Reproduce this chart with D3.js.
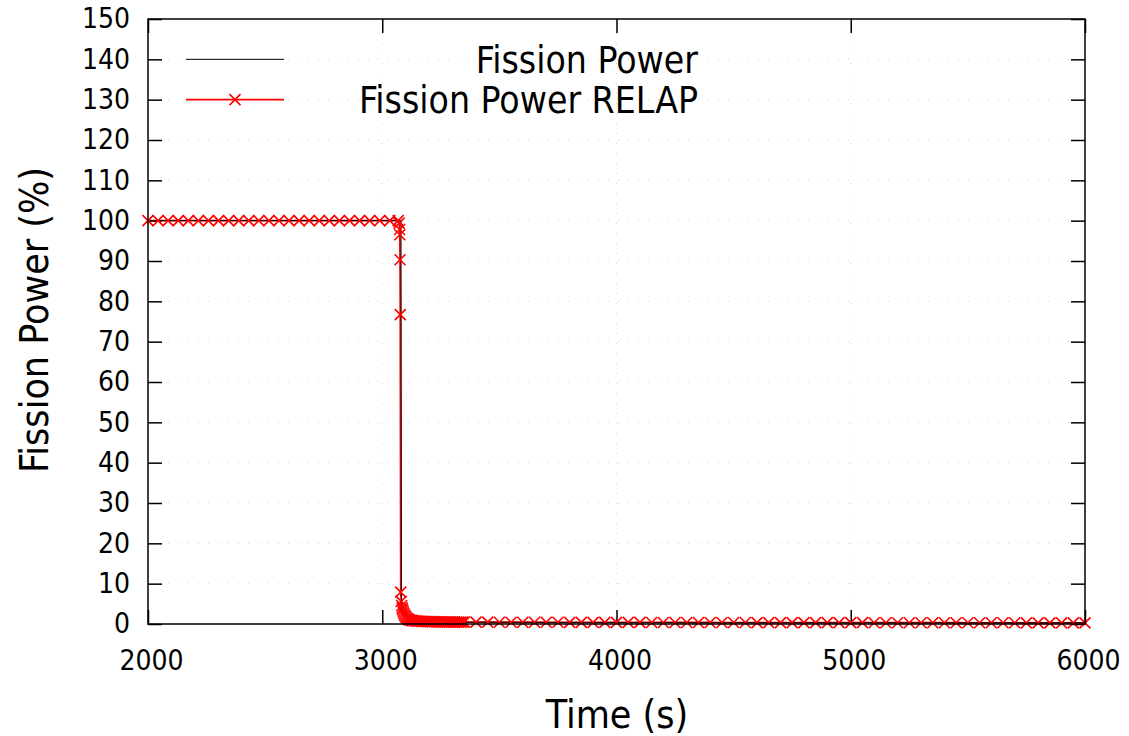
<!DOCTYPE html>
<html>
<head>
<meta charset="utf-8">
<script src="https://cdn.jsdelivr.net/npm/d3@7"></script>
<style>
  body { margin: 0; background: #fff; }
  text { font-family: "DejaVu Sans Condensed", "DejaVu Sans", sans-serif; font-stretch: condensed; fill: #000; }
</style>
</head>
<body>
<script>
var w = 1129;
var h = 736;
var margin = { left: 148, right: 44, top: 19, bottom: 112 };

// tick labels
var xTicks = [2000, 3000, 4000, 5000, 6000];
var yTicks = [0, 10, 20, 30, 40, 50, 60, 70, 80, 90, 100, 110, 120, 130, 140, 150];

// Fission Power (black line)
var fpTime = [2000, 3080, 3082, 3086, 3092, 3105, 3130, 3200, 3350, 4000, 5000, 6000];
var fpValue = [100, 100, 6.5, 3.8, 2.4, 1.4, 0.9, 0.6, 0.45, 0.35, 0.3, 0.3];

// Fission Power RELAP (red line with x markers)
var relapTime = [
  2000, 2043, 2086, 2129, 2172, 2215, 2258, 2301, 2344, 2387, 2430, 2473, 2516,
  2559, 2602, 2645, 2688, 2731, 2774, 2817, 2860, 2903, 2946, 2989, 3032, 3068,
  3072, 3074, 3075, 3076, 3077, 3079, 3081, 3083, 3085, 3087, 3090, 3093, 3096,
  3100, 3104, 3108, 3113, 3118, 3124, 3130, 3137, 3144, 3151, 3158, 3166, 3174,
  3182, 3190, 3198, 3206, 3214, 3222, 3230, 3238, 3246, 3254, 3262, 3270, 3278,
  3286, 3294, 3302, 3310, 3318, 3326, 3334, 3342, 3350,
  3400, 3450, 3500, 3550, 3600, 3650, 3700, 3750, 3800, 3850, 3900, 3950, 4000,
  4050, 4100, 4150, 4200, 4250, 4300, 4350, 4400, 4450, 4500, 4550, 4600, 4650,
  4700, 4750, 4800, 4850, 4900, 4950, 5000, 5050, 5100, 5150, 5200, 5250, 5300,
  5350, 5400, 5450, 5500, 5550, 5600, 5650, 5700, 5750, 5800, 5850, 5900, 5950,
  6000
];
var relapValue = [
  100, 100, 100, 100, 100, 100, 100, 100, 100, 100, 100, 100, 100,
  100, 100, 100, 100, 100, 100, 100, 100, 100, 100, 100, 100, 100,
  99.4, 97.8, 96.5, 90.3, 76.7, 7.9, 5.6, 4.6, 4.0, 3.5, 3.0, 2.5, 2.1,
  1.8, 1.5, 1.3, 1.1, 1.0, 0.9, 0.85, 0.8, 0.75, 0.7, 0.68, 0.66, 0.64,
  0.62, 0.6, 0.59, 0.58, 0.57, 0.56, 0.55, 0.54, 0.53, 0.52, 0.52, 0.51, 0.5,
  0.5, 0.49, 0.49, 0.48, 0.48, 0.47, 0.47, 0.46, 0.46,
  0.45, 0.45, 0.44, 0.44, 0.43, 0.43, 0.42, 0.42, 0.41, 0.41, 0.4, 0.4, 0.4,
  0.39, 0.39, 0.38, 0.38, 0.38, 0.37, 0.37, 0.37, 0.36, 0.36, 0.36, 0.35, 0.35,
  0.35, 0.34, 0.34, 0.34, 0.33, 0.33, 0.33, 0.33, 0.32, 0.32, 0.32, 0.32, 0.31,
  0.31, 0.31, 0.31, 0.3, 0.3, 0.3, 0.3, 0.3, 0.29, 0.29, 0.29, 0.29, 0.29,
  0.29
];

var fpData = fpTime.map(function (t, i) { return [t, fpValue[i]]; });
var relapData = relapTime.map(function (t, i) { return [t, relapValue[i]]; });

var svg = d3.select("body").append("svg").attr("width", w).attr("height", h);

var x = d3.scaleLinear().domain([2000, 6000]).range([margin.left, w - margin.right]);
var y = d3.scaleLinear().domain([0, 150]).range([h - margin.bottom, margin.top]);

var x0 = x.range()[0], x1 = x.range()[1];
var y0 = y.range()[0], y1 = y.range()[1];

// dotted grid
svg.append("g")
  .selectAll("line.gy")
  .data(yTicks.slice(1, -1))
  .enter()
  .append("line")
  .attr("x1", x0).attr("x2", x1)
  .attr("y1", function (d) { return y(d); })
  .attr("y2", function (d) { return y(d); })
  .attr("stroke", "#d4d4d4")
  .attr("stroke-width", 1)
  .attr("stroke-dasharray", "1,9");

svg.append("g")
  .selectAll("line.gx")
  .data(xTicks.slice(1, -1))
  .enter()
  .append("line")
  .attr("y1", y0).attr("y2", y1)
  .attr("x1", function (d) { return x(d); })
  .attr("x2", function (d) { return x(d); })
  .attr("stroke", "#d4d4d4")
  .attr("stroke-width", 1)
  .attr("stroke-dasharray", "1,9");

// axes
var tickLen = 14;
var gLeft = svg.append("g")
  .attr("transform", "translate(" + x0 + ",0)")
  .call(d3.axisLeft(y).tickValues(yTicks).tickSizeInner(-tickLen).tickSizeOuter(0).tickPadding(18));
var gBottom = svg.append("g")
  .attr("transform", "translate(0," + y0 + ")")
  .call(d3.axisBottom(x).tickValues(xTicks).tickFormat(d3.format("d")).tickSizeInner(-tickLen).tickSizeOuter(0).tickPadding(26));
var gRight = svg.append("g")
  .attr("transform", "translate(" + x1 + ",0)")
  .call(d3.axisRight(y).tickValues(yTicks).tickSizeInner(-tickLen).tickSizeOuter(0).tickFormat(""));
var gTop = svg.append("g")
  .attr("transform", "translate(0," + y1 + ")")
  .call(d3.axisTop(x).tickValues(xTicks).tickSizeInner(-tickLen).tickSizeOuter(0).tickFormat(""));

[gLeft, gBottom, gRight, gTop].forEach(function (g) {
  g.select(".domain").remove();
  g.selectAll(".tick line").attr("stroke", "#000").attr("stroke-width", 1.5);
  g.selectAll("text")
    .attr("font-family", null)
    .attr("font-size", "28px")
    .attr("fill", "#000");
});
gBottom.selectAll("text").attr("dx", 3);

// series lines
var line = d3.line()
  .x(function (d) { return x(d[0]); })
  .y(function (d) { return y(d[1]); });

svg.append("path")
  .datum(relapData)
  .attr("d", line)
  .attr("fill", "none")
  .attr("stroke", "#ff0000")
  .attr("stroke-width", 1.8);

svg.append("path")
  .datum(fpData)
  .attr("d", line)
  .attr("fill", "none")
  .attr("stroke", "#000")
  .attr("stroke-width", 1);

// x markers
var ms = 5.5;
function cross(sel) {
  sel.append("path")
    .attr("d", "M" + -ms + "," + -ms + "L" + ms + "," + ms + "M" + -ms + "," + ms + "L" + ms + "," + -ms)
    .attr("fill", "none")
    .attr("stroke", "#ff0000")
    .attr("stroke-width", 1.6);
}

svg.append("g")
  .selectAll("g")
  .data(relapData)
  .enter()
  .append("g")
  .attr("transform", function (d) { return "translate(" + x(d[0]) + "," + y(d[1]) + ")"; })
  .call(cross);

// border
svg.append("rect")
  .attr("x", x0).attr("y", y1)
  .attr("width", x1 - x0).attr("height", y0 - y1)
  .attr("fill", "none")
  .attr("stroke", "#000")
  .attr("stroke-width", 1.5);

// legend
var legendItems = ["Fission Power", "Fission Power RELAP"];
var legendColors = ["#000", "#ff0000"];
var legendY = [y(140), y(130)];

legendItems.forEach(function (name, i) {
  svg.append("line")
    .attr("x1", 186).attr("x2", 284)
    .attr("y1", legendY[i]).attr("y2", legendY[i])
    .attr("stroke", legendColors[i])
    .attr("stroke-width", i === 0 ? 1 : 1.8);
  if (i === 1) {
    svg.append("g")
      .attr("transform", "translate(235," + legendY[i] + ")")
      .call(cross);
  }
  svg.append("text")
    .attr("x", 698)
    .attr("y", legendY[i])
    .attr("dy", "0.36em")
    .attr("text-anchor", "end")
    .attr("font-size", "37px")
    .text(name);
});

// axis titles
svg.append("text")
  .attr("x", 617)
  .attr("y", 728)
  .attr("text-anchor", "middle")
  .attr("font-size", "39px")
  .text("Time (s)");

svg.append("text")
  .attr("transform", "translate(34,320) rotate(-90)")
  .attr("dy", "0.36em")
  .attr("text-anchor", "middle")
  .attr("font-size", "39px")
  .text("Fission Power (%)");
</script>
</body>
</html>
